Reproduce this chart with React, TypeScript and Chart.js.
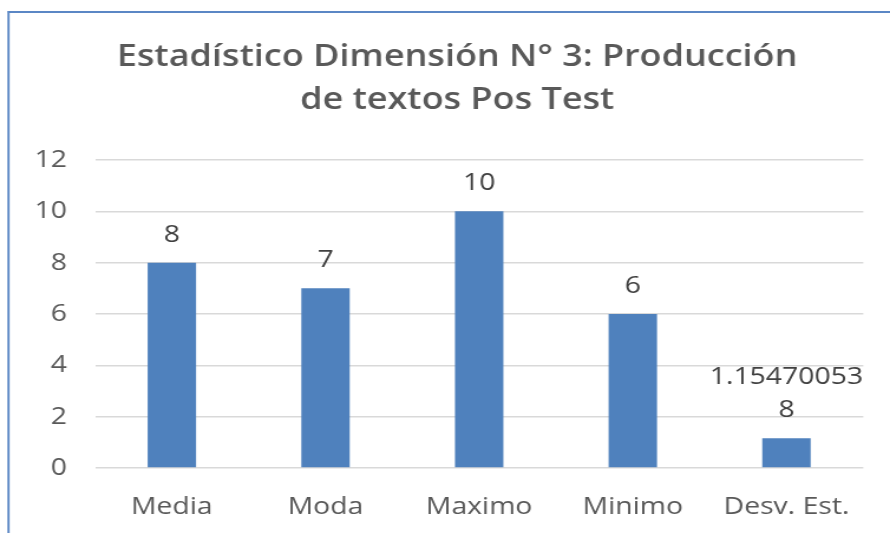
import React, { useEffect, useRef } from "react";
import { Chart, registerables } from "chart.js";

Chart.register(...registerables);

const titleLines = ["Estadístico Dimensión N° 3: Producción", "de textos Pos Test"];
const categories = ["Media", "Moda", "Maximo", "Minimo", "Desv. Est."];
const values = [8, 7, 10, 6, 1.154700538];
const valueLabels = ["8", "7", "10", "6", "1.154700538"];
const yMin = 0;
const yMax = 12;
const yStep = 2;

const TEXT = "#595959";
const BAR = "#4F81BD";

// The reference image is horizontally stretched; draw at a narrower internal width and stretch via CSS.
const CSS_W = 890;
const CSS_H = 533;
const SX = 1.18;
const INT_W = Math.round(CSS_W / SX);

function wrapLabel(s: string, maxChars: number): string[] {
  const out: string[] = [];
  for (let i = 0; i < s.length; i += maxChars) out.push(s.slice(i, i + maxChars));
  return out;
}

const frameAndLabels = {
  id: "frameAndLabels",
  beforeDraw(chart: any) {
    const ctx = chart.ctx;
    ctx.save();
    ctx.fillStyle = "#ffffff";
    ctx.fillRect(0, 0, chart.width, chart.height);
    ctx.strokeStyle = "#5B87C5";
    ctx.lineWidth = 2.2;
    ctx.beginPath();
    ctx.moveTo(8 / SX, 12);
    ctx.lineTo(chart.width + 5, 12);
    ctx.stroke();
    ctx.lineWidth = 2.2 / SX;
    ctx.beginPath();
    ctx.moveTo(8.5 / SX, chart.height + 5);
    ctx.lineTo(8.5 / SX, 11);
    ctx.stroke();
    // title
    ctx.font = "600 30.5px 'Open Sans'";
    ctx.fillStyle = TEXT;
    ctx.textAlign = "center";
    ctx.textBaseline = "middle";
    titleLines.forEach((line, i) => {
      ctx.fillText(line, 457 / SX, 57 + i * 43);
    });
    ctx.restore();
  },
  afterDatasetsDraw(chart: any) {
    const ctx = chart.ctx;
    const meta = chart.getDatasetMeta(0);
    ctx.save();
    ctx.font = "24px 'Open Sans'";
    ctx.fillStyle = "#404040";
    ctx.textAlign = "center";
    ctx.textBaseline = "middle";
    meta.data.forEach((bar: any, i: number) => {
      const lines = wrapLabel(valueLabels[i], 10);
      const n = lines.length;
      lines.forEach((line, j) => {
        const y = bar.y - 28 - (n - 1 - j) * 33;
        ctx.fillText(line, bar.x, y);
      });
    });
    ctx.restore();
  },
};

export default function App() {
  const ref = useRef<HTMLCanvasElement>(null);
  useEffect(() => {
    if (!ref.current) return;
    const chart = new Chart(ref.current, {
      type: "bar",
      data: {
        labels: categories,
        datasets: [
          {
            data: values,
            backgroundColor: BAR,
            borderWidth: 0,
            barPercentage: 0.63,
            categoryPercentage: 0.5,
          },
        ],
      },
      options: {
        responsive: false,
        animation: false,
        layout: { padding: { top: 160, left: 0, right: INT_W - 863 / SX, bottom: 0 } },
        plugins: {
          legend: { display: false },
          tooltip: { enabled: false },
          title: { display: false },
        },
        scales: {
          x: {
            grid: { display: false },
            border: { display: false },
            ticks: {
              color: TEXT,
              font: { family: "'Open Sans'", size: 24 },
              padding: 17,
              maxRotation: 0,
            },
            afterFit(scale: any) {
              scale.height = CSS_H - 468;
            },
          },
          y: {
            min: yMin,
            max: yMax,
            grid: { color: "#d9d9d9", lineWidth: 1.5, drawTicks: false },
            border: { display: false },
            ticks: {
              stepSize: yStep,
              color: TEXT,
              font: { family: "'Open Sans'", size: 24 },
              padding: 95 / SX - 67 / SX,
            },
            afterFit(scale: any) {
              scale.width = 95 / SX;
            },
          },
        },
      },
      plugins: [frameAndLabels],
    });
    return () => chart.destroy();
  }, []);
  return (
    <div style={{ position: "fixed", left: 0, top: 0, width: CSS_W, height: CSS_H, background: "#fff", overflow: "hidden" }}>
      <canvas
        ref={ref}
        width={INT_W}
        height={CSS_H}
        style={{ display: "block", width: CSS_W + "px", height: CSS_H + "px" }}
      />
    </div>
  );
}
